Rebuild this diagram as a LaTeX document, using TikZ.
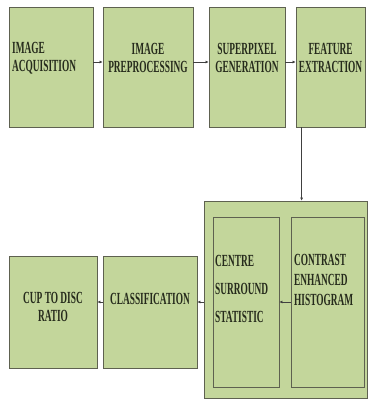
\documentclass[tikz,border=0pt]{standalone}
\usepackage{fontspec}
\setmainfont{Liberation Serif}[FakeStretch=0.55]
\usetikzlibrary{arrows.meta}
\definecolor{boxfill}{HTML}{C3D69B}
\definecolor{boxline}{HTML}{5E6150}
\definecolor{txt}{HTML}{262B1C}
\tikzset{
  stage/.style={draw=boxline, fill=boxfill, line width=0.8pt, inner sep=0pt},
  caption/.style={text=txt, font=\bfseries\fontsize{17}{18}\selectfont, inner sep=0pt},
  flow/.style={draw=black!75, line width=0.6pt, -{Latex[length=3pt,width=3pt]}}
}

\begin{document}
\begin{tikzpicture}[x=1pt, y=-1pt]
  \useasboundingbox (0,0) rectangle (367,399);
  % top row
  \node[stage, minimum width=84pt, minimum height=120pt] (acq) at (51,67) {};
  \node[stage, minimum width=90pt, minimum height=120pt] (pre) at (148,67) {};
  \node[stage, minimum width=76pt, minimum height=120pt] (sup) at (247,67) {};
  \node[stage, minimum width=69pt, minimum height=120pt] (fea) at (330.5,67) {};
  \node[caption, anchor=west, align=left] (acqtext) at (12,58) {IMAGE\\ACQUISITION};
  \node[caption, align=center] (pretext) at (148,58) {IMAGE\\PREPROCESSING};
  \node[caption, align=center] (suptext) at (247,58) {SUPERPIXEL\\GENERATION};
  \node[caption, align=center] (featext) at (330.5,58) {FEATURE\\EXTRACTION};
  \foreach \a/\b in {acq/pre, pre/sup, sup/fea} { \draw[flow] ([yshift=5pt]\a.east) -- ([yshift=5pt]\b.west); }

  % feature block
  \node[stage, minimum width=163pt, minimum height=197pt] (big) at (285.5,299.5) {};
  \node[stage, minimum width=66pt, minimum height=170pt] (cen) at (246,302) {};
  \node[stage, minimum width=73pt, minimum height=170pt] (con) at (327.5,302) {};
  \node[caption, anchor=west, align=left, font=\bfseries\fontsize{17}{28}\selectfont] (centext) at (215,288.5) {CENTRE\\SURROUND\\STATISTIC};
  \node[caption, anchor=west, align=left, font=\bfseries\fontsize{17}{20}\selectfont] (context) at (294,280) {CONTRAST\\ENHANCED\\HISTOGRAM};
  \draw[flow] ([xshift=6pt]fea.south west) -- ([xshift=6pt]fea.south west |- big.north);
  \draw[flow] (con.west) -- (cen.east);

  % bottom row
  \node[stage, minimum width=94pt, minimum height=112pt] (cla) at (150,312) {};
  \node[stage, minimum width=88pt, minimum height=112pt] (cup) at (53,312) {};
  \node[caption] (clatext) at (150,299) {CLASSIFICATION};
  \node[caption, align=center] (cuptext) at (53,307) {CUP TO DISC\\RATIO};
  \draw[flow] (big.west |- cen.east) -- (cla.east |- cen.east);
  \draw[flow] (cla.west |- cen.east) -- (cup.east |- cen.east);
\end{tikzpicture}
\end{document}
